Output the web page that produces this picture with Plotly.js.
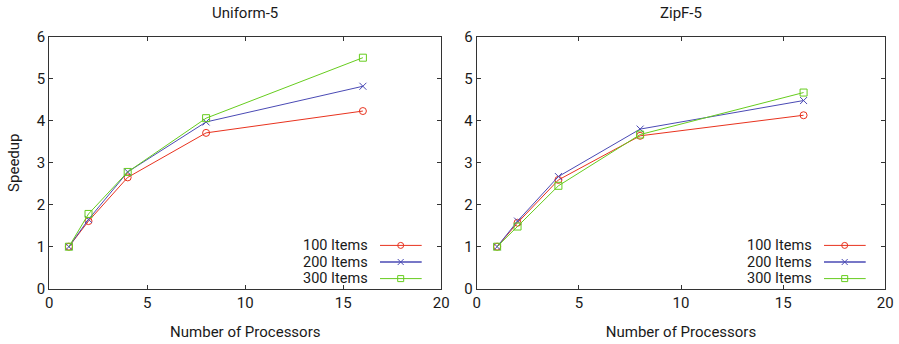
<!DOCTYPE html>
<html>
<head>
<meta charset="utf-8">
<script src="https://cdn.plot.ly/plotly-3.0.1.min.js"></script>
<style>html,body{margin:0;padding:0;background:#fff;}#chart{width:899px;height:344px;}</style>
</head>
<body>
<div id="chart"></div>
<script>
// ---- data ----
const processors = [1, 2, 4, 8, 16];
const seriesNames = ["100 Items", "200 Items", "300 Items"];
const uniform100 = [1.00, 1.61, 2.65, 3.71, 4.23];
const uniform200 = [1.00, 1.65, 2.78, 3.97, 4.82];
const uniform300 = [1.00, 1.78, 2.78, 4.06, 5.50];
const zipf100 = [1.00, 1.57, 2.59, 3.64, 4.13];
const zipf200 = [1.00, 1.61, 2.67, 3.80, 4.48];
const zipf300 = [1.00, 1.48, 2.45, 3.67, 4.67];
const panelTitles = ["Uniform-5", "ZipF-5"];
const xTicks = [0, 5, 10, 15, 20];
const yTicks = [0, 1, 2, 3, 4, 5, 6];

// ---- style ----
const W = 899, H = 344;
const colors = ["#e8321e", "#4a4ab4", "#66cc1e"];
const symbols = ["circle-open", "x-thin-open", "square-open"];
const FONT = "Roboto, Open Sans, DejaVu Sans, sans-serif";
const axisColor = "#333333";
const textColor = "#1a1a1a";

const panels = [
  {data: [uniform100, uniform200, uniform300], xa: "x", ya: "y", left: 49.3, right: 441.3},
  {data: [zipf100, zipf200, zipf300], xa: "x2", ya: "y2", left: 476.7, right: 885.3}
];
const plotTop = 36.7, plotBottom = 288.7;

const traces = [];
panels.forEach((p, pi) => {
  p.data.forEach((vals, si) => {
    traces.push({
      x: processors, y: vals, xaxis: p.xa, yaxis: p.ya,
      type: "scatter", mode: "lines+markers", name: seriesNames[si],
      showlegend: false,
      line: {color: colors[si], width: 1},
      marker: {symbol: symbols[si], size: 7, color: colors[si], line: {color: colors[si], width: 1}}
    });
  });
});

function xAxis(p) {
  return {
    domain: [p.left / W, p.right / W], range: [0, 20], tickvals: xTicks, ticktext: xTicks.map(String),
    ticks: "inside", ticklen: 4, tickcolor: axisColor, showline: true, linecolor: axisColor, linewidth: 1,
    mirror: "ticks", showgrid: false, zeroline: false, automargin: false,
    tickfont: {family: FONT, size: 15, color: textColor},
    title: {text: "Number of Processors", font: {family: FONT, size: 15, color: textColor}, standoff: 15}
  };
}
function yAxis(p, anchor, showTitle) {
  const a = {
    domain: [1 - plotBottom / H, 1 - plotTop / H], range: [0, 6], tickvals: yTicks, ticktext: yTicks.map(String),
    ticks: "inside", ticklen: 4, tickcolor: axisColor, showline: true, linecolor: axisColor, linewidth: 1,
    mirror: "ticks", showgrid: false, zeroline: false, automargin: false, anchor: anchor,
    tickfont: {family: FONT, size: 15, color: textColor}
  };
  if (showTitle) a.title = {text: "Speedup", font: {family: FONT, size: 15, color: textColor}, standoff: 13};
  return a;
}

const annotations = [];
const shapes = [];
panels.forEach((p, pi) => {
  annotations.push({
    text: panelTitles[pi], xref: "paper", yref: "paper",
    x: ((p.left + p.right) / 2) / W, y: 1 - 13 / H, xanchor: "center", yanchor: "middle",
    showarrow: false, font: {family: FONT, size: 15, color: textColor}
  });
  // custom legend: text then line sample with marker (gnuplot style)
  const textEnd = p.right - 72, lineStart = p.right - 61.3, lineEnd = p.right - 19.6, mk = p.right - 40.6;
  const rows = [245.4, 262, 278.6];
  rows.forEach((ry, si) => {
    annotations.push({
      text: seriesNames[si], xref: "paper", yref: "paper", x: textEnd / W, y: 1 - ry / H,
      xanchor: "right", yanchor: "middle", showarrow: false, borderpad: 0,
      font: {family: FONT, size: 14.5, color: textColor}
    });
    shapes.push({type: "line", xref: "paper", yref: "paper", x0: lineStart / W, x1: lineEnd / W,
      y0: 1 - ry / H, y1: 1 - ry / H, line: {color: colors[si], width: si === 1 ? 1.5 : 1}});
    const r = 3;
    if (si === 0) {
      shapes.push({type: "circle", xref: "paper", yref: "paper", x0: (mk - r) / W, x1: (mk + r) / W,
        y0: 1 - (ry + r) / H, y1: 1 - (ry - r) / H, line: {color: colors[si], width: 1}, fillcolor: "rgba(0,0,0,0)"});
    } else if (si === 1) {
      shapes.push({type: "line", xref: "paper", yref: "paper", x0: (mk - r) / W, x1: (mk + r) / W,
        y0: 1 - (ry - r) / H, y1: 1 - (ry + r) / H, line: {color: colors[si], width: 1}});
      shapes.push({type: "line", xref: "paper", yref: "paper", x0: (mk - r) / W, x1: (mk + r) / W,
        y0: 1 - (ry + r) / H, y1: 1 - (ry - r) / H, line: {color: colors[si], width: 1}});
    } else {
      shapes.push({type: "rect", xref: "paper", yref: "paper", x0: (mk - r) / W, x1: (mk + r) / W,
        y0: 1 - (ry + r) / H, y1: 1 - (ry - r) / H, line: {color: colors[si], width: 1}, fillcolor: "rgba(0,0,0,0)"});
    }
  });
});

const layout = {
  width: W, height: H, margin: {l: 0, r: 0, t: 0, b: 0},
  paper_bgcolor: "#fff", plot_bgcolor: "#fff", showlegend: false,
  xaxis: Object.assign(xAxis(panels[0]), {anchor: "y"}),
  yaxis: yAxis(panels[0], "x", true),
  xaxis2: Object.assign(xAxis(panels[1]), {anchor: "y2"}),
  yaxis2: yAxis(panels[1], "x2", false),
  annotations: annotations, shapes: shapes
};
Plotly.newPlot("chart", traces, layout, {staticPlot: true, displayModeBar: false});
</script>
</body>
</html>
